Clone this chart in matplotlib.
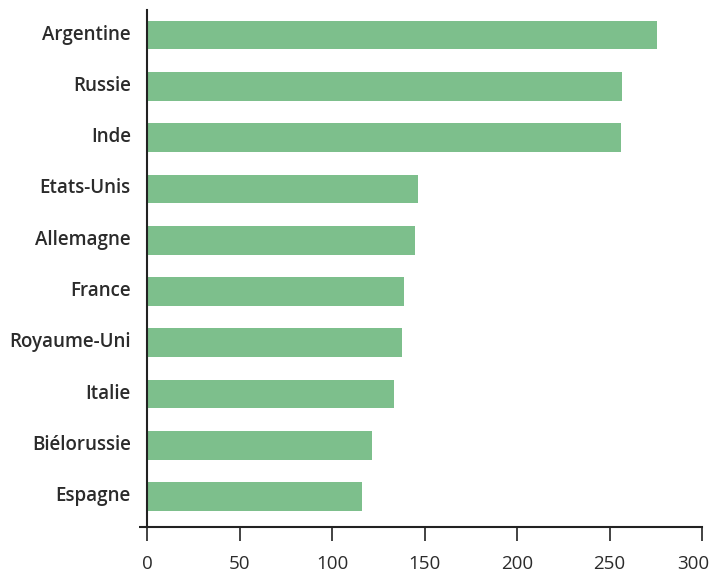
import matplotlib
matplotlib.use('Agg')
import matplotlib.pyplot as plt
from matplotlib.transforms import ScaledTranslation

# Data
countries = ['Argentine', 'Russie', 'Inde', 'Etats-Unis', 'Allemagne',
             'France', 'Royaume-Uni', 'Italie', 'Biélorussie', 'Espagne']
values = [275.7, 256.8, 256.2, 146.4, 144.7, 138.8, 137.7, 133.4, 121.5, 116.1]
xticks = [0, 50, 100, 150, 200, 250, 300]

plt.rcParams['font.family'] = ['Open Sans', 'DejaVu Sans']

fig = plt.figure(figsize=(7.09, 5.72), dpi=100)
ax = fig.add_axes([0.208, 0.078, 0.782, 0.9045])

pos = list(range(len(countries)))
ax.barh(pos, values, height=0.56, color='#7dbf8c')

ax.set_xlim(0, 300)
ax.set_ylim(9.6, -0.49)

ax.set_yticks(pos)
ax.set_yticklabels(countries, fontsize=13.5, color='#2b2b2b', fontweight='semibold')
ax.tick_params(axis='y', which='major', length=0, pad=12)
# labels sit a little above the bar centres
up = ScaledTranslation(0, 3 / 100, fig.dpi_scale_trans)
for lab in ax.get_yticklabels():
    lab.set_transform(lab.get_transform() + up)
# small tick at the bottom-left corner
ax.set_yticks([9.6], minor=True)
ax.tick_params(axis='y', which='minor', length=6, width=1.5, color='#222222')

ax.set_xticks(xticks)
ax.set_xticklabels([str(t) for t in xticks], fontsize=13.5, color='#2b2b2b')
ax.tick_params(axis='x', length=10, width=1.2, color='#222222', pad=10)

# keep the last tick label inside the figure
last = ax.get_xticklabels()[-1]
last.set_transform(last.get_transform() + ScaledTranslation(-9 / 100, 0, fig.dpi_scale_trans))

for s in ['top', 'right']:
    ax.spines[s].set_visible(False)
for s in ['left', 'bottom']:
    ax.spines[s].set_color('#222222')
    ax.spines[s].set_linewidth(1.5)

fig.savefig('out.png', dpi=100)
